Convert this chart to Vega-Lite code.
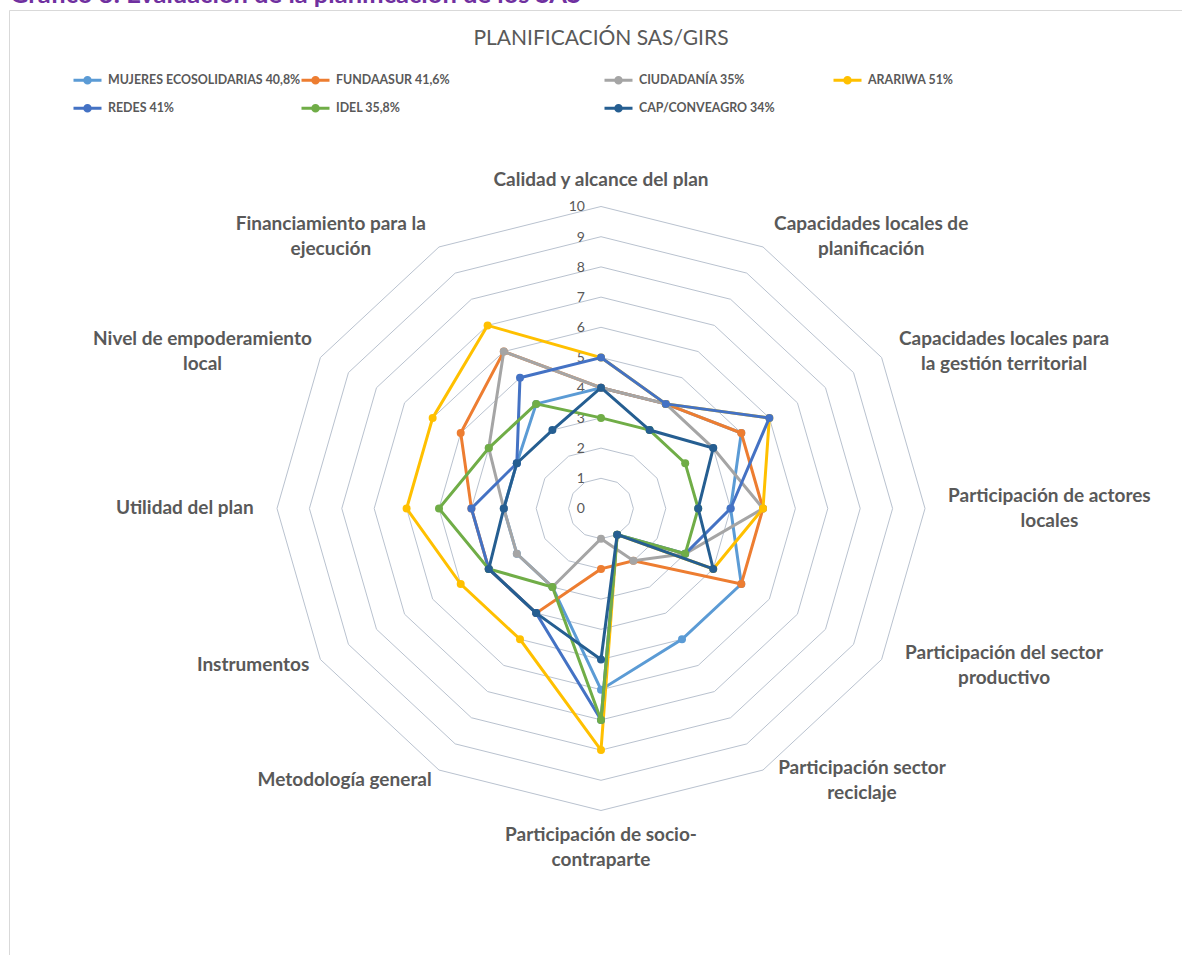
{
  "$schema": "https://vega.github.io/schema/vega-lite/v6.json",
  "width": 1173,
  "height": 945,
  "autosize": {"type": "none"},
  "padding": {"left": 9, "top": 10, "right": 0, "bottom": 0},
  "background": "white",
  "config": {
    "view": {"stroke": "#D9D9D9", "strokeWidth": 1},
    "legend": {
      "padding": 0,
      "symbolType": "M-1,0L1,0M-0.2,0A0.2,0.2,0,1,1,0.2,0A0.2,0.2,0,1,1,-0.2,0Z",
      "symbolSize": 784,
      "symbolStrokeWidth": 3,
      "labelFont": "Lato",
      "labelFontSize": 12.4,
      "labelFontWeight": "bold",
      "labelColor": "#595959",
      "labelOffset": 5,
      "labelLimit": 400
    }
  },
  "datasets": {
    "grid": [
      {"level": 1, "k": [0,1,2,3,4,5,6,7,8,9,10,11]},
      {"level": 2, "k": [0,1,2,3,4,5,6,7,8,9,10,11]},
      {"level": 3, "k": [0,1,2,3,4,5,6,7,8,9,10,11]},
      {"level": 4, "k": [0,1,2,3,4,5,6,7,8,9,10,11]},
      {"level": 5, "k": [0,1,2,3,4,5,6,7,8,9,10,11]},
      {"level": 6, "k": [0,1,2,3,4,5,6,7,8,9,10,11]},
      {"level": 7, "k": [0,1,2,3,4,5,6,7,8,9,10,11]},
      {"level": 8, "k": [0,1,2,3,4,5,6,7,8,9,10,11]},
      {"level": 9, "k": [0,1,2,3,4,5,6,7,8,9,10,11]},
      {"level": 10, "k": [0,1,2,3,4,5,6,7,8,9,10,11]}
    ],
    "ticks": [
      {"nivel": 0}, {"nivel": 1}, {"nivel": 2}, {"nivel": 3}, {"nivel": 4}, {"nivel": 5},
      {"nivel": 6}, {"nivel": 7}, {"nivel": 8}, {"nivel": 9}, {"nivel": 10}
    ],
    "ejes": [
      {"k": 0, "label": "Calidad y alcance del plan"},
      {"k": 1, "label": "Capacidades locales de\nplanificación"},
      {"k": 2, "label": "Capacidades locales para\nla gestión territorial"},
      {"k": 3, "label": "Participación de actores\nlocales"},
      {"k": 4, "label": "Participación del sector\nproductivo"},
      {"k": 5, "label": "Participación sector\nreciclaje"},
      {"k": 6, "label": "Participación de socio-\ncontraparte"},
      {"k": 7, "label": "Metodología general"},
      {"k": 8, "label": "Instrumentos"},
      {"k": 9, "label": "Utilidad del plan"},
      {"k": 10, "label": "Nivel de empoderamiento\nlocal"},
      {"k": 11, "label": "Financiamiento para la\nejecución"}
    ],
    "scores": [
      {"serie": "MUJERES ECOSOLIDARIAS 40,8%", "k": 0, "valor": 4},
      {"serie": "MUJERES ECOSOLIDARIAS 40,8%", "k": 1, "valor": 4},
      {"serie": "MUJERES ECOSOLIDARIAS 40,8%", "k": 2, "valor": 5},
      {"serie": "MUJERES ECOSOLIDARIAS 40,8%", "k": 3, "valor": 4},
      {"serie": "MUJERES ECOSOLIDARIAS 40,8%", "k": 4, "valor": 5},
      {"serie": "MUJERES ECOSOLIDARIAS 40,8%", "k": 5, "valor": 5},
      {"serie": "MUJERES ECOSOLIDARIAS 40,8%", "k": 6, "valor": 6},
      {"serie": "MUJERES ECOSOLIDARIAS 40,8%", "k": 7, "valor": 3},
      {"serie": "MUJERES ECOSOLIDARIAS 40,8%", "k": 8, "valor": 3},
      {"serie": "MUJERES ECOSOLIDARIAS 40,8%", "k": 9, "valor": 3},
      {"serie": "MUJERES ECOSOLIDARIAS 40,8%", "k": 10, "valor": 3},
      {"serie": "MUJERES ECOSOLIDARIAS 40,8%", "k": 11, "valor": 4},
      {"serie": "FUNDAASUR 41,6%", "k": 0, "valor": 4},
      {"serie": "FUNDAASUR 41,6%", "k": 1, "valor": 4},
      {"serie": "FUNDAASUR 41,6%", "k": 2, "valor": 5},
      {"serie": "FUNDAASUR 41,6%", "k": 3, "valor": 5},
      {"serie": "FUNDAASUR 41,6%", "k": 4, "valor": 5},
      {"serie": "FUNDAASUR 41,6%", "k": 5, "valor": 2},
      {"serie": "FUNDAASUR 41,6%", "k": 6, "valor": 2},
      {"serie": "FUNDAASUR 41,6%", "k": 7, "valor": 4},
      {"serie": "FUNDAASUR 41,6%", "k": 8, "valor": 4},
      {"serie": "FUNDAASUR 41,6%", "k": 9, "valor": 4},
      {"serie": "FUNDAASUR 41,6%", "k": 10, "valor": 5},
      {"serie": "FUNDAASUR 41,6%", "k": 11, "valor": 6},
      {"serie": "CIUDADANÍA 35%", "k": 0, "valor": 4},
      {"serie": "CIUDADANÍA 35%", "k": 1, "valor": 4},
      {"serie": "CIUDADANÍA 35%", "k": 2, "valor": 4},
      {"serie": "CIUDADANÍA 35%", "k": 3, "valor": 5},
      {"serie": "CIUDADANÍA 35%", "k": 4, "valor": 3},
      {"serie": "CIUDADANÍA 35%", "k": 5, "valor": 2},
      {"serie": "CIUDADANÍA 35%", "k": 6, "valor": 1},
      {"serie": "CIUDADANÍA 35%", "k": 7, "valor": 3},
      {"serie": "CIUDADANÍA 35%", "k": 8, "valor": 3},
      {"serie": "CIUDADANÍA 35%", "k": 9, "valor": 3},
      {"serie": "CIUDADANÍA 35%", "k": 10, "valor": 4},
      {"serie": "CIUDADANÍA 35%", "k": 11, "valor": 6},
      {"serie": "ARARIWA 51%", "k": 0, "valor": 5},
      {"serie": "ARARIWA 51%", "k": 1, "valor": 4},
      {"serie": "ARARIWA 51%", "k": 2, "valor": 6},
      {"serie": "ARARIWA 51%", "k": 3, "valor": 5},
      {"serie": "ARARIWA 51%", "k": 4, "valor": 4},
      {"serie": "ARARIWA 51%", "k": 5, "valor": 1},
      {"serie": "ARARIWA 51%", "k": 6, "valor": 8},
      {"serie": "ARARIWA 51%", "k": 7, "valor": 5},
      {"serie": "ARARIWA 51%", "k": 8, "valor": 5},
      {"serie": "ARARIWA 51%", "k": 9, "valor": 6},
      {"serie": "ARARIWA 51%", "k": 10, "valor": 6},
      {"serie": "ARARIWA 51%", "k": 11, "valor": 7},
      {"serie": "REDES 41%", "k": 0, "valor": 5},
      {"serie": "REDES 41%", "k": 1, "valor": 4},
      {"serie": "REDES 41%", "k": 2, "valor": 6},
      {"serie": "REDES 41%", "k": 3, "valor": 4},
      {"serie": "REDES 41%", "k": 4, "valor": 3},
      {"serie": "REDES 41%", "k": 5, "valor": 1},
      {"serie": "REDES 41%", "k": 6, "valor": 7},
      {"serie": "REDES 41%", "k": 7, "valor": 4},
      {"serie": "REDES 41%", "k": 8, "valor": 4},
      {"serie": "REDES 41%", "k": 9, "valor": 4},
      {"serie": "REDES 41%", "k": 10, "valor": 3},
      {"serie": "REDES 41%", "k": 11, "valor": 5},
      {"serie": "IDEL 35,8%", "k": 0, "valor": 3},
      {"serie": "IDEL 35,8%", "k": 1, "valor": 3},
      {"serie": "IDEL 35,8%", "k": 2, "valor": 3},
      {"serie": "IDEL 35,8%", "k": 3, "valor": 3},
      {"serie": "IDEL 35,8%", "k": 4, "valor": 3},
      {"serie": "IDEL 35,8%", "k": 5, "valor": 1},
      {"serie": "IDEL 35,8%", "k": 6, "valor": 7},
      {"serie": "IDEL 35,8%", "k": 7, "valor": 3},
      {"serie": "IDEL 35,8%", "k": 8, "valor": 4},
      {"serie": "IDEL 35,8%", "k": 9, "valor": 5},
      {"serie": "IDEL 35,8%", "k": 10, "valor": 4},
      {"serie": "IDEL 35,8%", "k": 11, "valor": 4},
      {"serie": "CAP/CONVEAGRO 34%", "k": 0, "valor": 4},
      {"serie": "CAP/CONVEAGRO 34%", "k": 1, "valor": 3},
      {"serie": "CAP/CONVEAGRO 34%", "k": 2, "valor": 4},
      {"serie": "CAP/CONVEAGRO 34%", "k": 3, "valor": 3},
      {"serie": "CAP/CONVEAGRO 34%", "k": 4, "valor": 4},
      {"serie": "CAP/CONVEAGRO 34%", "k": 5, "valor": 1},
      {"serie": "CAP/CONVEAGRO 34%", "k": 6, "valor": 5},
      {"serie": "CAP/CONVEAGRO 34%", "k": 7, "valor": 4},
      {"serie": "CAP/CONVEAGRO 34%", "k": 8, "valor": 4},
      {"serie": "CAP/CONVEAGRO 34%", "k": 9, "valor": 3},
      {"serie": "CAP/CONVEAGRO 34%", "k": 10, "valor": 3},
      {"serie": "CAP/CONVEAGRO 34%", "k": 11, "valor": 3}
    ]
  },
  "layer": [
    {
      "data": {"name": "grid"},
      "transform": [
        {"flatten": ["k"]},
        {"calculate": "datum.level * sin(datum.k * PI / 6)", "as": "x"},
        {"calculate": "datum.level * cos(datum.k * PI / 6)", "as": "y"}
      ],
      "mark": {"type": "line", "interpolate": "linear-closed", "stroke": "#B9C2CF", "strokeWidth": 1},
      "encoding": {
        "x": {"field": "x", "type": "quantitative", "scale": {"domain": [-18.2716, 17.9321], "nice": false, "zero": false}, "axis": null},
        "y": {"field": "y", "type": "quantitative", "scale": {"domain": [-14.7848, 16.5066], "nice": false, "zero": false}, "axis": null},
        "detail": {"field": "level", "type": "nominal"},
        "order": {"field": "k", "type": "quantitative"}
      }
    },
    {
      "data": {"name": "ticks"},
      "mark": {"type": "text", "align": "right", "baseline": "middle", "dx": -16, "dy": 1, "font": "Lato", "fontSize": 14, "color": "#595959"},
      "encoding": {
        "x": {"datum": 0, "type": "quantitative"},
        "y": {"field": "nivel", "type": "quantitative"},
        "text": {"field": "nivel", "type": "quantitative"}
      }
    },
    {
      "data": {"name": "ejes"},
      "transform": [
        {"calculate": "split(datum.label, '\\n')", "as": "partes"},
        {"calculate": "length(datum.partes)", "as": "n"},
        {"calculate": "max(length(datum.partes[0]), datum.n > 1 ? length(datum.partes[1]) : 0)", "as": "largo"},
        {"calculate": "sin(datum.k * PI / 6)", "as": "s"},
        {"calculate": "cos(datum.k * PI / 6)", "as": "c"},
        {"calculate": "10 * datum.s + (abs(datum.s) > 0.1 ? (14 * datum.s + (datum.s > 0 ? 1 : -1) * datum.largo * 4.6) : 0) / 32.4", "as": "x"},
        {"calculate": "10 * datum.c - ((abs(datum.s) > 0.1 ? -12 * datum.c : (datum.c > 0 ? -(14 + datum.n * 12.5) : (12 + datum.n * 12.5))) - (datum.n - 1) * 12.5) / 30.2", "as": "y"}
      ],
      "mark": {"type": "text", "align": "center", "baseline": "middle", "lineBreak": "\n", "lineHeight": 25, "font": "Lato", "fontSize": 19, "fontWeight": "bold", "color": "#595959"},
      "encoding": {
        "x": {"field": "x", "type": "quantitative"},
        "y": {"field": "y", "type": "quantitative"},
        "text": {"field": "label", "type": "nominal"}
      }
    },
    {
      "data": {"values": [{}]},
      "mark": {"type": "text", "text": "PLANIFICACIÓN SAS/GIRS", "align": "center", "baseline": "alphabetic", "font": "Lato", "fontSize": 21, "color": "#595959"},
      "encoding": {
        "x": {"datum": 0, "type": "quantitative"},
        "y": {"datum": 15.35, "type": "quantitative"}
      }
    },
    {
      "data": {"values": [{}]},
      "mark": {"type": "text", "text": "Gráfico 3: Evaluación de la planificación de los SAS", "align": "left", "baseline": "alphabetic", "font": "Lato", "fontSize": 25.5, "fontWeight": "bold", "color": "#7030A0"},
      "encoding": {
        "x": {"datum": -18.2407, "type": "quantitative"},
        "y": {"datum": 16.722, "type": "quantitative"}
      }
    },
    {
      "data": {"name": "scores"},
      "transform": [
        {"filter": {"field": "serie", "equal": "MUJERES ECOSOLIDARIAS 40,8%"}},
        {"calculate": "datum.valor * sin(datum.k * PI / 6)", "as": "x"},
        {"calculate": "datum.valor * cos(datum.k * PI / 6)", "as": "y"}
      ],
      "mark": {"type": "line", "interpolate": "linear-closed", "strokeWidth": 3, "point": {"filled": true, "size": 64}},
      "encoding": {
        "x": {"field": "x", "type": "quantitative"},
        "y": {"field": "y", "type": "quantitative"},
        "order": {"field": "k", "type": "quantitative"},
        "color": {"field": "serie", "type": "nominal", "scale": {"domain": ["MUJERES ECOSOLIDARIAS 40,8%"], "range": ["#5B9BD5"]}, "legend": {"orient": "none", "legendX": 63, "legendY": 54.7, "title": null}}
      }
    },
    {
      "data": {"name": "scores"},
      "transform": [
        {"filter": {"field": "serie", "equal": "FUNDAASUR 41,6%"}},
        {"calculate": "datum.valor * sin(datum.k * PI / 6)", "as": "x"},
        {"calculate": "datum.valor * cos(datum.k * PI / 6)", "as": "y"}
      ],
      "mark": {"type": "line", "interpolate": "linear-closed", "strokeWidth": 3, "point": {"filled": true, "size": 64}},
      "encoding": {
        "x": {"field": "x", "type": "quantitative"},
        "y": {"field": "y", "type": "quantitative"},
        "order": {"field": "k", "type": "quantitative"},
        "color": {"field": "serie", "type": "nominal", "scale": {"domain": ["FUNDAASUR 41,6%"], "range": ["#ED7D31"]}, "legend": {"orient": "none", "legendX": 291, "legendY": 54.7, "title": null}}
      }
    },
    {
      "data": {"name": "scores"},
      "transform": [
        {"filter": {"field": "serie", "equal": "CIUDADANÍA 35%"}},
        {"calculate": "datum.valor * sin(datum.k * PI / 6)", "as": "x"},
        {"calculate": "datum.valor * cos(datum.k * PI / 6)", "as": "y"}
      ],
      "mark": {"type": "line", "interpolate": "linear-closed", "strokeWidth": 3, "point": {"filled": true, "size": 64}},
      "encoding": {
        "x": {"field": "x", "type": "quantitative"},
        "y": {"field": "y", "type": "quantitative"},
        "order": {"field": "k", "type": "quantitative"},
        "color": {"field": "serie", "type": "nominal", "scale": {"domain": ["CIUDADANÍA 35%"], "range": ["#A5A5A5"]}, "legend": {"orient": "none", "legendX": 594, "legendY": 54.7, "title": null}}
      }
    },
    {
      "data": {"name": "scores"},
      "transform": [
        {"filter": {"field": "serie", "equal": "ARARIWA 51%"}},
        {"calculate": "datum.valor * sin(datum.k * PI / 6)", "as": "x"},
        {"calculate": "datum.valor * cos(datum.k * PI / 6)", "as": "y"}
      ],
      "mark": {"type": "line", "interpolate": "linear-closed", "strokeWidth": 3, "point": {"filled": true, "size": 64}},
      "encoding": {
        "x": {"field": "x", "type": "quantitative"},
        "y": {"field": "y", "type": "quantitative"},
        "order": {"field": "k", "type": "quantitative"},
        "color": {"field": "serie", "type": "nominal", "scale": {"domain": ["ARARIWA 51%"], "range": ["#FFC000"]}, "legend": {"orient": "none", "legendX": 823, "legendY": 54.7, "title": null}}
      }
    },
    {
      "data": {"name": "scores"},
      "transform": [
        {"filter": {"field": "serie", "equal": "REDES 41%"}},
        {"calculate": "datum.valor * sin(datum.k * PI / 6)", "as": "x"},
        {"calculate": "datum.valor * cos(datum.k * PI / 6)", "as": "y"}
      ],
      "mark": {"type": "line", "interpolate": "linear-closed", "strokeWidth": 3, "point": {"filled": true, "size": 64}},
      "encoding": {
        "x": {"field": "x", "type": "quantitative"},
        "y": {"field": "y", "type": "quantitative"},
        "order": {"field": "k", "type": "quantitative"},
        "color": {"field": "serie", "type": "nominal", "scale": {"domain": ["REDES 41%"], "range": ["#4472C4"]}, "legend": {"orient": "none", "legendX": 63, "legendY": 82.7, "title": null}}
      }
    },
    {
      "data": {"name": "scores"},
      "transform": [
        {"filter": {"field": "serie", "equal": "IDEL 35,8%"}},
        {"calculate": "datum.valor * sin(datum.k * PI / 6)", "as": "x"},
        {"calculate": "datum.valor * cos(datum.k * PI / 6)", "as": "y"}
      ],
      "mark": {"type": "line", "interpolate": "linear-closed", "strokeWidth": 3, "point": {"filled": true, "size": 64}},
      "encoding": {
        "x": {"field": "x", "type": "quantitative"},
        "y": {"field": "y", "type": "quantitative"},
        "order": {"field": "k", "type": "quantitative"},
        "color": {"field": "serie", "type": "nominal", "scale": {"domain": ["IDEL 35,8%"], "range": ["#70AD47"]}, "legend": {"orient": "none", "legendX": 291, "legendY": 82.7, "title": null}}
      }
    },
    {
      "data": {"name": "scores"},
      "transform": [
        {"filter": {"field": "serie", "equal": "CAP/CONVEAGRO 34%"}},
        {"calculate": "datum.valor * sin(datum.k * PI / 6)", "as": "x"},
        {"calculate": "datum.valor * cos(datum.k * PI / 6)", "as": "y"}
      ],
      "mark": {"type": "line", "interpolate": "linear-closed", "strokeWidth": 3, "point": {"filled": true, "size": 64}},
      "encoding": {
        "x": {"field": "x", "type": "quantitative"},
        "y": {"field": "y", "type": "quantitative"},
        "order": {"field": "k", "type": "quantitative"},
        "color": {"field": "serie", "type": "nominal", "scale": {"domain": ["CAP/CONVEAGRO 34%"], "range": ["#255E91"]}, "legend": {"orient": "none", "legendX": 594, "legendY": 82.7, "title": null}}
      }
    }
  ],
  "resolve": {"scale": {"color": "independent"}, "legend": {"color": "independent"}}
}
